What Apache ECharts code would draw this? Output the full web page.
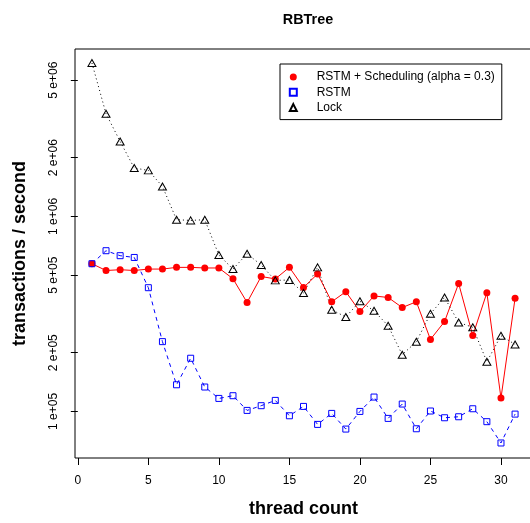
<!DOCTYPE html>
<html><head><meta charset="utf-8">
<script src="https://cdn.jsdelivr.net/npm/echarts@6/dist/echarts.min.js"></script>
<style>html,body{margin:0;padding:0;background:#fff}#c{width:530px;height:523px}</style>
</head><body><div id="c"></div>
<script>
const threads = [1,2,3,4,5,6,7,8,9,10,11,12,13,14,15,16,17,18,19,20,21,22,23,24,25,26,27,28,29,30,31];
const schedValues = [5.72e5,5.28e5,5.33e5,5.28e5,5.37e5,5.37e5,5.48e5,5.48e5,5.44e5,5.44e5,4.79e5,3.62e5,4.92e5,4.78e5,5.48e5,4.32e5,5.07e5,3.65e5,4.11e5,3.25e5,3.91e5,3.84e5,3.41e5,3.65e5,2.34e5,2.89e5,4.53e5,2.45e5,4.06e5,1.171e5,3.80e5];
const rstmValues = [5.72e5,6.67e5,6.29e5,6.16e5,4.31e5,2.28e5,1.37e5,1.874e5,1.334e5,1.166e5,1.204e5,1.012e5,1.070e5,1.139e5,9.50e4,1.061e5,8.58e4,9.77e4,8.12e4,1.0e5,1.185e5,9.21e4,1.091e5,8.15e4,1.005e5,9.28e4,9.39e4,1.032e5,8.86e4,6.89e4,9.69e4];
const lockValues = [6.12e6,3.363e6,2.424e6,1.771e6,1.722e6,1.425e6,9.62e5,9.54e5,9.62e5,6.34e5,5.37e5,6.44e5,5.63e5,4.70e5,4.72e5,4.05e5,5.48e5,3.32e5,3.05e5,3.67e5,3.28e5,2.75e5,1.954e5,2.278e5,3.17e5,3.84e5,2.86e5,2.70e5,1.798e5,2.445e5,2.206e5];
const xTicks = [0,5,10,15,20,25,30];
const yTicks = [1e5,2e5,5e5,1e6,2e6,5e6];
const yTickLabels = ['1 e+05','2 e+05','5 e+05','1 e+06','2 e+06','5 e+06'];
const seriesNames = ['RSTM + Scheduling (alpha = 0.3)','RSTM','Lock'];
const titleText = 'RBTree';
const xName = 'thread count';
const yName = 'transactions / second';

const FONT = '"Liberation Sans", Arial, Helvetica, sans-serif';
const pairs = vals => threads.map((t, i) => [t, vals[i]]);
function yLabel(v) {
  for (let i = 0; i < yTicks.length; i++) {
    if (Math.abs(Math.log10(v) - Math.log10(yTicks[i])) < 1e-4) return yTickLabels[i];
  }
  return '';
}
const chart = echarts.init(document.getElementById('c'), null, {renderer: 'canvas'});
chart.setOption({
  animation: false,
  backgroundColor: '#fff',
  title: {text: titleText, left: 303, textAlign: 'center', top: 8,
    textStyle: {fontFamily: FONT, fontSize: 14.4, fontWeight: 'bold', color: '#000'}},
  legend: {
    left: 280, top: 64, orient: 'vertical', selectedMode: false,
    borderColor: '#000', borderWidth: 1, padding: [6, 7, 5, 8.8],
    itemGap: 1.3, itemWidth: 7, itemHeight: 7,
    data: [{name: seriesNames[0], icon: 'circle'}, {name: seriesNames[1], icon: 'rect'}, {name: seriesNames[2], icon: 'triangle'}],
    textStyle: {fontFamily: FONT, fontSize: 12, color: '#000', padding: [0, 0, 0, 14.9], lineHeight: 14}
  },
  grid: {left: 75, top: 49, right: -2, bottom: 65, show: true, borderColor: '#000', borderWidth: 1,
    containLabel: false, outerBoundsMode: 'none'},
  xAxis: {
    type: 'value', min: -0.2, max: 32.2,
    name: xName, nameLocation: 'middle', nameGap: 42,
    nameTextStyle: {fontFamily: FONT, fontSize: 18, fontWeight: 'bold', color: '#000'},
    axisLine: {show: false}, splitLine: {show: false},
    axisTick: {show: true, customValues: xTicks, length: 7, lineStyle: {color: '#000', width: 1}},
    axisLabel: {customValues: xTicks, margin: 17, fontSize: 12, color: '#000', fontFamily: FONT}
  },
  yAxis: {
    type: 'log', min: 5.77e4, max: 7.22e6,
    name: yName, nameLocation: 'middle', nameGap: 46, nameRotate: 90,
    nameTextStyle: {fontFamily: FONT, fontSize: 18, fontWeight: 'bold', color: '#000'},
    axisLine: {show: false}, splitLine: {show: false}, minorTick: {show: false},
    axisTick: {show: true, customValues: yTicks, length: 7, lineStyle: {color: '#000', width: 1}},
    axisLabel: {customValues: yTicks, rotate: 90, margin: 15, fontSize: 12, color: '#000', fontFamily: FONT, formatter: yLabel}
  },
  series: [
    {name: seriesNames[0], type: 'line', data: pairs(schedValues), symbol: 'circle', symbolSize: 7,
      itemStyle: {color: '#ff0000'}, lineStyle: {color: '#ff0000', width: 1, type: 'solid'},
      emphasis: {disabled: true}, silent: true},
    {name: seriesNames[1], type: 'line', data: pairs(rstmValues), symbol: 'rect', symbolSize: 6,
      itemStyle: {color: 'transparent', borderColor: '#0000ff', borderWidth: 1},
      lineStyle: {color: '#0000ff', width: 1, type: [4, 4]},
      emphasis: {disabled: true}, silent: true},
    {name: seriesNames[2], type: 'line', data: pairs(lockValues), symbol: 'triangle', symbolSize: [8, 7],
      itemStyle: {color: 'transparent', borderColor: '#000', borderWidth: 1},
      lineStyle: {color: '#000', width: 1, type: [1, 3]},
      emphasis: {disabled: true}, silent: true}
  ]
});
</script>
</body></html>
